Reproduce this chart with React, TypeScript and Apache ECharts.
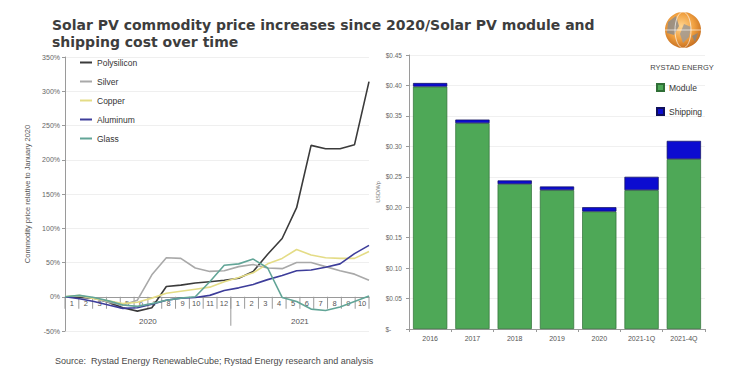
import React, { useEffect, useRef } from "react";
import * as echarts from "echarts";

// ---------- data ----------
const monthLabels = ["1","2","3","4","5","6","7","8","9","10","11","12","1","2","3","4","5","6","7","8","9","10"];
const yearLabels = ["2020", "2021"];
const monthsPerYear = [12, 10];

const polysilicon = [0, -1, -2, -8, -16, -21, -16, 15, 17, 20, 22, 24, 27, 37, 62, 85, 130, 221, 216, 216, 222, 314];
const silver = [0, 1, -2, -8, -12, -5, 32, 57, 56, 42, 37, 38, 44, 47, 42, 41, 50, 50, 44, 38, 33, 24];
const copper = [0, 2, -3, -6, -10, -8, -2, 5, 8, 11, 14, 22, 28, 35, 48, 56, 69, 61, 57, 56, 56, 66];
const aluminum = [0, -3, -7, -12, -17, -16, -11, -5, -2, -1, 2, 9, 13, 18, 25, 31, 38, 39, 43, 48, 63, 75];
const glass = [0, 2, -1, -6, -12, -14, -10, -5, -2, 0, 22, 46, 48, 55, 42, -1, -7, -18, -20, -15, -7, 1];

const barCategories = ["2016", "2017", "2018", "2019", "2020", "2021-1Q", "2021-4Q"];
const moduleCost = [0.398, 0.338, 0.238, 0.228, 0.193, 0.228, 0.279];
const shippingCost = [0.006, 0.006, 0.006, 0.006, 0.007, 0.022, 0.030];

const titleLine1 = "Solar PV commodity price increases since 2020/Solar PV module and";
const titleLine2 = "shipping cost over time";
const sourceText = "Source:  Rystad Energy RenewableCube; Rystad Energy research and analysis";

// ---------- derived ----------
const totalMonths = monthsPerYear.reduce((a, b) => a + b, 0);
const monthItems = monthLabels.map((m, i) => [i]);
const yearItems: number[][] = [];
{
  let start = 0;
  monthsPerYear.forEach((m) => {
    yearItems.push([start, start + m]);
    start += m;
  });
}
const pointKeys = monthLabels.map((m, i) => "p" + i);

const FONT = "Liberation Sans";
const AXIS_GREY = "#9a9a9a";

export default function App() {
  const ref = useRef<HTMLDivElement>(null);
  useEffect(() => {
    if (!ref.current) return;
    const chart = echarts.init(ref.current, undefined, { renderer: "svg" });
    const lineSeries = [
      { name: "Polysilicon", data: polysilicon, color: "#3b3b3b" },
      { name: "Silver", data: silver, color: "#a9a9a9" },
      { name: "Copper", data: copper, color: "#e4dc86" },
      { name: "Aluminum", data: aluminum, color: "#3d3d9a" },
      { name: "Glass", data: glass, color: "#62a597" },
    ];
    const option: any = {
      animation: false,
      backgroundColor: "#ffffff",
      textStyle: { fontFamily: FONT },
      grid: [
        { left: 65, top: 57, width: 304, height: 274 },
        { left: 409, top: 55, width: 296, height: 274 },
      ],
      legend: [
        {
          orient: "vertical",
          left: 75,
          top: 53,
          itemWidth: 12,
          itemHeight: 2,
          itemGap: 10,
          icon: "rect",
          textStyle: { fontSize: 8.5, color: "#333", fontFamily: FONT },
          data: lineSeries.map((s) => s.name),
        },
        {
          orient: "vertical",
          left: 651,
          top: 78,
          itemWidth: 7,
          itemHeight: 7,
          itemGap: 15,
          icon: "rect",
          textStyle: { fontSize: 8.5, color: "#333", fontFamily: FONT },
          data: ["Module", "Shipping"],
        },
      ],
      xAxis: [
        {
          gridIndex: 0,
          type: "category",
          boundaryGap: false,
          data: pointKeys,
          axisLine: { onZero: true, onZeroAxisIndex: 0, lineStyle: { color: AXIS_GREY, width: 1 } },
          axisTick: { show: false },
          axisLabel: { show: false },
        },
        {
          gridIndex: 0,
          type: "value",
          min: 0,
          max: totalMonths,
          show: false,
        },
        {
          gridIndex: 1,
          type: "category",
          data: barCategories,
          axisLine: { lineStyle: { color: AXIS_GREY } },
          axisTick: { show: true, length: 3, lineStyle: { color: AXIS_GREY } },
          axisLabel: { fontSize: 7, color: "#555", margin: 6, fontFamily: FONT },
        },
      ],
      yAxis: [
        {
          gridIndex: 0,
          type: "value",
          min: -50,
          max: 350,
          interval: 50,
          name: "Commodity price relative to January 2020",
          nameLocation: "middle",
          nameGap: 34,
          nameTextStyle: { fontSize: 7.5, color: "#555", fontFamily: FONT },
          axisLine: { show: true, lineStyle: { color: AXIS_GREY } },
          axisTick: { show: true, length: 3, lineStyle: { color: AXIS_GREY } },
          axisLabel: { formatter: (v: number) => v + "%", fontSize: 7, color: "#666", margin: 5, fontFamily: FONT },
          splitLine: { show: true, lineStyle: { color: "#efefef", width: 1 } },
        },
        {
          gridIndex: 1,
          type: "value",
          min: 0,
          max: 0.45,
          interval: 0.05,
          name: "USD/Wp",
          nameLocation: "middle",
          nameGap: 2,
          nameTextStyle: { fontSize: 5.5, color: "#777", fontFamily: FONT },
          axisLine: { show: true, lineStyle: { color: AXIS_GREY } },
          axisTick: { show: true, length: 3, lineStyle: { color: AXIS_GREY } },
          axisLabel: {
            formatter: (v: number) => (v === 0 ? "$-      " : "$" + v.toFixed(2)),
            fontSize: 6.5,
            color: "#666",
            margin: 7,
            fontFamily: FONT,
          },
          splitLine: { show: true, lineStyle: { color: "#f0f0f0", width: 1 } },
        },
      ],
      series: [
        ...lineSeries.map((s) => ({
          name: s.name,
          type: "line",
          xAxisIndex: 0,
          yAxisIndex: 0,
          data: s.data,
          symbol: "none",
          color: s.color,
          lineStyle: { width: 1.6, color: s.color },
          z: 3,
        })),
        {
          name: "monthAxis",
          type: "custom",
          xAxisIndex: 1,
          yAxisIndex: 0,
          silent: true,
          clip: false,
          data: monthItems,
          renderItem: (params: any, api: any) => {
            const idx = params.dataIndex;
            const i = api.value(0);
            const p0 = api.coord([i, 0]);
            const p1 = api.coord([i + 1, 0]);
            const children: any[] = [
              {
                type: "line",
                shape: { x1: p0[0], y1: p0[1], x2: p0[0], y2: p0[1] + 12 },
                style: { stroke: AXIS_GREY, lineWidth: 1 },
              },
              {
                type: "text",
                x: (p0[0] + p1[0]) / 2,
                y: p0[1] + 7,
                style: {
                  text: monthLabels[idx],
                  fill: "#555",
                  font: "7.5px 'Liberation Sans'",
                  align: "center",
                  verticalAlign: "middle",
                },
              },
            ];
            if (idx === monthLabels.length - 1) {
              children.push({
                type: "line",
                shape: { x1: p1[0], y1: p1[1], x2: p1[0], y2: p1[1] + 12 },
                style: { stroke: AXIS_GREY, lineWidth: 1 },
              });
            }
            return { type: "group", children };
          },
        },
        {
          name: "yearAxis",
          type: "custom",
          xAxisIndex: 1,
          yAxisIndex: 0,
          silent: true,
          clip: false,
          data: yearItems,
          renderItem: (params: any, api: any) => {
            const idx = params.dataIndex;
            const a = api.coord([api.value(0), 0]);
            const b = api.coord([api.value(1), 0]);
            const children: any[] = [
              {
                type: "text",
                x: (a[0] + b[0]) / 2,
                y: a[1] + 25,
                style: {
                  text: yearLabels[idx],
                  fill: "#555",
                  font: "8px 'Liberation Sans'",
                  align: "center",
                  verticalAlign: "middle",
                },
              },
            ];
            if (idx < yearLabels.length - 1) {
              children.push({
                type: "line",
                shape: { x1: b[0], y1: b[1], x2: b[0], y2: b[1] + 29 },
                style: { stroke: AXIS_GREY, lineWidth: 1 },
              });
            }
            return { type: "group", children };
          },
        },
        {
          name: "Module",
          type: "bar",
          xAxisIndex: 2,
          yAxisIndex: 1,
          stack: "cost",
          data: moduleCost,
          barCategoryGap: "19%",
          itemStyle: { color: "#4ea857", borderColor: "#2f6e36", borderWidth: 0.7 },
        },
        {
          name: "Shipping",
          type: "bar",
          xAxisIndex: 2,
          yAxisIndex: 1,
          stack: "cost",
          data: shippingCost,
          barCategoryGap: "19%",
          itemStyle: { color: "#0c0cd0", borderColor: "#10105a", borderWidth: 0.7 },
        },
      ],
      graphic: [
        {
          type: "text",
          left: 52,
          top: 18,
          style: { text: titleLine1, font: "bold 14px 'DejaVu Sans'", fill: "#3d3d3d" },
        },
        {
          type: "text",
          left: 52,
          top: 35,
          style: { text: titleLine2, font: "bold 14px 'DejaVu Sans'", fill: "#3d3d3d" },
        },
        {
          type: "text",
          left: 55,
          top: 356,
          style: { text: sourceText, font: "9px 'Liberation Sans'", fill: "#4a4a4a" },
        },
        {
          type: "group",
          x: 683,
          y: 30,
          children: [
            {
              type: "circle",
              shape: { cx: 0, cy: 0, r: 18 },
              style: {
                fill: {
                  type: "radial",
                  x: 0.45,
                  y: 0.4,
                  r: 0.65,
                  colorStops: [
                    { offset: 0, color: "#ffd590" },
                    { offset: 0.55, color: "#f0a040" },
                    { offset: 1, color: "#c0681c" },
                  ],
                },
              },
            },
            {
              type: "polygon",
              shape: { points: [[-15, -8], [-7, -14], [-4, -4], [-9, 5], [-16, 3]] },
              style: { fill: "#8f8c88", opacity: 0.85 },
            },
            {
              type: "polygon",
              shape: { points: [[1, -6], [8, -3], [6, 7], [0, 13], [-3, 4]] },
              style: { fill: "#a09a94", opacity: 0.85 },
            },
            {
              type: "polygon",
              shape: { points: [[9, 6], [15, 3], [12, 12]] },
              style: { fill: "#8a8580", opacity: 0.85 },
            },
            {
              type: "ellipse",
              shape: { cx: 0, cy: 0, rx: 8, ry: 18 },
              style: { fill: "none", stroke: "#ffffff", lineWidth: 0.8, opacity: 0.8 },
            },
            {
              type: "line",
              shape: { x1: -18, y1: 0, x2: 18, y2: 0 },
              style: { stroke: "#ffffff", lineWidth: 0.8, opacity: 0.8 },
            },
          ],
        },
        {
          type: "text",
          x: 682,
          y: 67,
          style: {
            text: "RYSTAD ENERGY",
            font: "7.5px 'Liberation Sans'",
            fill: "#444",
            align: "center",
            verticalAlign: "middle",
          },
        },
      ],
    };
    chart.setOption(option);
    return () => chart.dispose();
  }, []);
  return (
    <div
      ref={ref}
      style={{ position: "fixed", left: 0, top: 0, width: 732, height: 383, background: "#fff" }}
    />
  );
}
